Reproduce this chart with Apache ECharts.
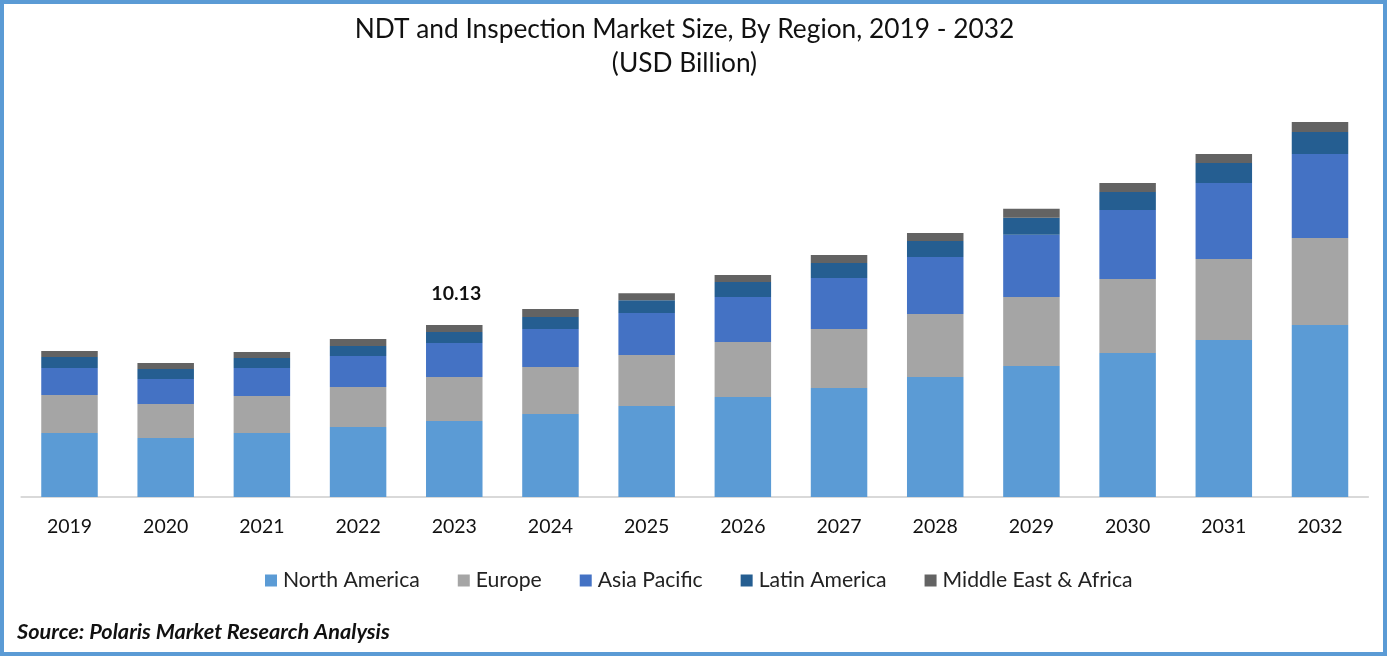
<!DOCTYPE html>
<html>
<head>
<meta charset="utf-8">
<script src="https://cdn.jsdelivr.net/npm/echarts@6/dist/echarts.min.js"></script>
<style>
  html, body { margin: 0; padding: 0; background: #fff; }
  #chart { width: 1387px; height: 656px; }
</style>
</head>
<body>
<div id="chart"></div>
<script>
const years = ["2019","2020","2021","2022","2023","2024","2025","2026","2027","2028","2029","2030","2031","2032"];
const northAmerica = [3.76,3.47,3.76,4.12,4.47,4.88,5.35,5.88,6.41,7.06,7.71,8.47,9.24,10.12];
const europe = [2.24,2.00,2.18,2.35,2.59,2.76,3.00,3.24,3.47,3.71,4.06,4.35,4.76,5.12];
const asiaPacific = [1.59,1.47,1.65,1.82,2.00,2.24,2.47,2.65,3.00,3.35,3.65,4.06,4.47,4.94];
const latinAmerica = [0.65,0.59,0.59,0.59,0.65,0.71,0.76,0.88,0.88,0.94,1.00,1.06,1.18,1.29];
const middleEastAfrica = [0.35,0.35,0.35,0.41,0.41,0.47,0.41,0.41,0.47,0.47,0.53,0.53,0.53,0.59];
const labelYear = "2023";
const labelText = "10.13";

const font = "Lato";
const myChart = echarts.init(document.getElementById("chart"));

function stack(name, data, color) {
  return { name, type: "bar", stack: "total", barWidth: 56.5, data, itemStyle: { color } };
}

const lastSeries = stack("Middle East & Africa", middleEastAfrica.map((v, i) =>
  years[i] === labelYear
    ? { value: v, label: { show: true, position: "top", distance: 21, offset: [2, 0], formatter: labelText,
        fontFamily: font, fontWeight: "bold", fontSize: 19.5, color: "#111" } }
    : v), "#636363");

myChart.setOption({
  animation: false,
  backgroundColor: "#fff",
  title: [
    { text: "NDT and Inspection Market Size, By Region, 2019 - 2032\n(USD Billion)", left: 679.5, textAlign: "center", top: 8,
      textStyle: { fontFamily: font, fontWeight: "normal", fontSize: 26.3, color: "#111", lineHeight: 34, align: "center" } },
    { text: "Source: Polaris Market Research Analysis", left: 12, top: 616,
      textStyle: { fontFamily: font, fontWeight: "bold", fontStyle: "italic", fontSize: 21.7, color: "#111" } }
  ],
  legend: {
    left: 260, top: 565, itemWidth: 12, itemHeight: 12, itemGap: 38, icon: "rect",
    textStyle: { fontFamily: font, fontSize: 21.2, color: "#222", padding: [0, 0, 0, 1] }
  },
  grid: { left: 21.4, right: 18.9, top: 89, bottom: 159 },
  xAxis: {
    type: "category", data: years,
    axisLine: { lineStyle: { color: "#d9d9d9", width: 2 } },
    axisTick: { show: false },
    axisLabel: { fontFamily: font, fontSize: 19.5, color: "#111", margin: 20 }
  },
  yAxis: { type: "value", min: 0, max: 24, show: false, splitLine: { show: false } },
  series: [
    stack("North America", northAmerica, "#5B9BD5"),
    stack("Europe", europe, "#A5A5A5"),
    stack("Asia Pacific", asiaPacific, "#4472C4"),
    stack("Latin America", latinAmerica, "#255E91"),
    lastSeries
  ],
  graphic: [
    { type: "rect", silent: true, z: 100, shape: { x: 2, y: 2, width: 1383, height: 652 },
      style: { fill: "none", stroke: "#5B9BD5", lineWidth: 4 } }
  ]
});
</script>
</body>
</html>
